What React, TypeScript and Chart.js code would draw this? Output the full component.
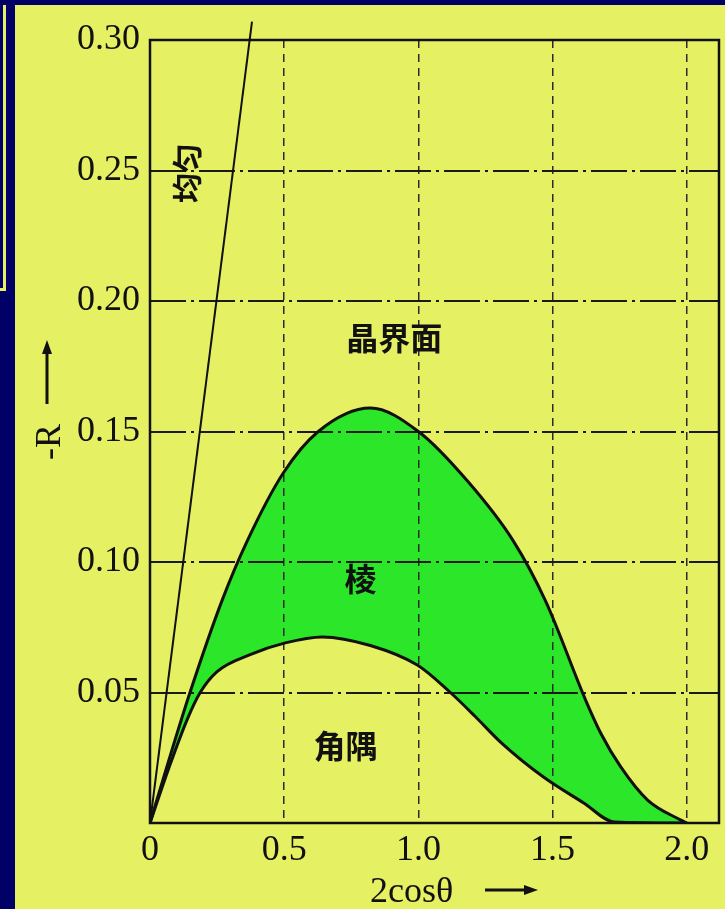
import { useEffect, useRef } from "react";
import { Chart, registerables } from "chart.js";

Chart.register(...registerables);

// Upper boundary (晶界面 / 棱 border)
const upperX = [0, 0.07, 0.149, 0.269, 0.362, 0.496, 0.627, 0.821, 1.0, 1.183, 1.354, 1.474, 1.623, 1.679, 1.754, 1.854, 1.978, 2.0];
const upperY = [0, 0.024, 0.05, 0.0854, 0.108, 0.134, 0.15, 0.159, 0.15, 0.131, 0.108, 0.085, 0.0471, 0.0345, 0.0215, 0.0088, 0.0011, 0];

// Lower boundary (棱 / 角隅 border)
const lowerX = [0, 0.07, 0.14, 0.187, 0.25, 0.373, 0.504, 0.642, 0.821, 0.996, 1.119, 1.21, 1.306, 1.466, 1.616, 1.73, 2.0];
const lowerY = [0, 0.021, 0.04, 0.05, 0.058, 0.0645, 0.069, 0.0713, 0.068, 0.0605, 0.05, 0.041, 0.031, 0.0176, 0.0077, 0.0004, 0];

// Uniform line (均匀)
const uniformX = [0, 0.38];
const uniformY = [0, 0.307];

// Region labels
const regionLabels = ["晶界面", "棱", "角隅", "均匀"];
const regionX = [0.91, 0.784, 0.728, 0.138];
const regionY = [0.186, 0.0935, 0.0295, 0.249];
const regionRot = [0, 0, 0, -90];

// Axes
const xMin = 0;
const xMax = 2.12;
const xStep = 0.5;
const yMin = 0;
const yMax = 0.3;
const yStep = 0.05;
const xTitle = "2cosθ";
const yTitle = "-R";

const YELLOW = "#e6f063";
const GREEN = "#2ce62a";
const NAVY = "#000066";
const INK = "#111111";

function drawArrow(ctx: CanvasRenderingContext2D, x1: number, y1: number, x2: number, y2: number) {
  const ang = Math.atan2(y2 - y1, x2 - x1);
  const head = 14;
  const hw = 5;
  ctx.save();
  ctx.strokeStyle = INK;
  ctx.fillStyle = INK;
  ctx.lineWidth = 3;
  ctx.beginPath();
  ctx.moveTo(x1, y1);
  ctx.lineTo(x2 - Math.cos(ang) * head * 0.6, y2 - Math.sin(ang) * head * 0.6);
  ctx.stroke();
  ctx.translate(x2, y2);
  ctx.rotate(ang);
  ctx.beginPath();
  ctx.moveTo(0, 0);
  ctx.lineTo(-head, -hw);
  ctx.lineTo(-head, hw);
  ctx.closePath();
  ctx.fill();
  ctx.restore();
}

export default function App() {
  const ref = useRef<HTMLCanvasElement>(null);

  useEffect(() => {
    const canvas = ref.current;
    if (!canvas) return;

    const annot = {
      id: "annot",
      afterDraw(chart: any) {
        const { ctx, chartArea: a, scales } = chart;
        ctx.save();
        ctx.strokeStyle = INK;
        ctx.lineWidth = 2.5;
        ctx.strokeRect(a.left, a.top, a.right - a.left, a.bottom - a.top);

        ctx.fillStyle = INK;
        ctx.textAlign = "center";
        ctx.textBaseline = "middle";
        regionLabels.forEach((t, i) => {
          const px = scales.x.getPixelForValue(regionX[i]);
          const py = scales.y.getPixelForValue(regionY[i]);
          ctx.font = i === 3 ? 'bold 30px "Noto Sans CJK SC"' : 'bold 32px "Noto Sans CJK SC"';
          ctx.save();
          ctx.translate(px, py);
          ctx.rotate((regionRot[i] * Math.PI) / 180);
          ctx.fillText(t, 0, 0);
          ctx.restore();
        });

        ctx.font = '36px "Liberation Serif"';
        ctx.textAlign = "left";
        ctx.textBaseline = "alphabetic";
        ctx.fillText(xTitle, 370, 902);
        drawArrow(ctx, 485, 890, 538, 890);

        ctx.save();
        ctx.translate(60, 460);
        ctx.rotate(-Math.PI / 2);
        ctx.fillText(yTitle, 0, 0);
        ctx.restore();
        drawArrow(ctx, 47, 404, 47, 340);
        ctx.restore();
      },
    };

    const tickFont = { family: '"Liberation Serif", serif', size: 36 };

    const chart = new Chart(canvas, {
      type: "line",
      data: {
        datasets: [
          {
            label: "upper",
            data: upperX.map((x, i) => ({ x, y: upperY[i] })),
            borderColor: INK,
            borderWidth: 3,
            pointRadius: 0,
            fill: "+1",
            backgroundColor: GREEN,
            cubicInterpolationMode: "monotone",
          },
          {
            label: "lower",
            data: lowerX.map((x, i) => ({ x, y: lowerY[i] })),
            borderColor: INK,
            borderWidth: 3,
            pointRadius: 0,
            fill: false,
            cubicInterpolationMode: "monotone",
          },
          {
            label: "uniform",
            data: uniformX.map((x, i) => ({ x, y: uniformY[i] })),
            borderColor: INK,
            borderWidth: 2,
            pointRadius: 0,
            fill: false,
            tension: 0,
            clip: false,
          },
        ],
      } as any,
      options: {
        animation: false,
        responsive: false,
        devicePixelRatio: 1,
        layout: { padding: { left: 15, top: 40, right: 6, bottom: 0 } },
        plugins: {
          legend: { display: false },
          tooltip: { enabled: false },
          filler: { drawTime: "beforeDraw" },
        } as any,
        scales: {
          x: {
            type: "linear",
            min: xMin,
            max: xMax,
            afterFit: (s: any) => {
              s.height = 86;
            },
            ticks: {
              stepSize: xStep,
              includeBounds: false,
              padding: 6,
              font: tickFont,
              color: INK,
              maxRotation: 0,
              autoSkip: false,
              callback: (v: any) => (Number(v) === 0 ? "0" : Number(v).toFixed(1)),
            },
            grid: { color: "#2a2a2a", lineWidth: 1.5, drawTicks: false },
            border: { display: false, dash: [8, 6] },
          },
          y: {
            type: "linear",
            min: yMin,
            max: yMax,
            afterFit: (s: any) => {
              s.width = 135;
            },
            ticks: {
              stepSize: yStep,
              padding: 10,
              font: tickFont,
              color: INK,
              autoSkip: false,
              callback: (v: any) => (Number(v) === 0 ? "" : Number(v).toFixed(2)),
            },
            grid: { color: "#1a1a1a", lineWidth: 2, drawTicks: false },
            border: { display: false, dash: [36, 5, 3, 5] },
          },
        } as any,
      },
      plugins: [annot],
    });

    return () => chart.destroy();
  }, []);

  return (
    <div
      style={{
        position: "fixed",
        left: 0,
        top: 0,
        width: 725,
        height: 909,
        background: NAVY,
        overflow: "hidden",
      }}
    >
      <div style={{ position: "absolute", left: 3, top: 5, width: 3, height: 286, background: YELLOW }} />
      <div style={{ position: "absolute", left: 0, top: 288, width: 5, height: 3, background: YELLOW }} />
      <div style={{ position: "absolute", left: 15, top: 5, width: 710, height: 904, background: YELLOW }} />
      <canvas
        ref={ref}
        width={725}
        height={909}
        style={{ position: "absolute", left: 0, top: 0, width: 725, height: 909 }}
      />
    </div>
  );
}
